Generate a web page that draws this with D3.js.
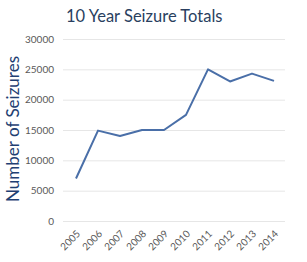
<!DOCTYPE html>
<html lang="en">
<head>
<meta charset="UTF-8">
<title>10 Year Seizure Totals</title>
<script src="https://cdn.jsdelivr.net/npm/d3@7/dist/d3.min.js"></script>
<style>
  body { margin: 0; background: #fff; }
  text { font-family: Lato, "Open Sans", sans-serif; }
  .tick text { fill: #595959; font-size: 10px; }
</style>
</head>
<body>
<script>
  // chart values
  var years = ["2005", "2006", "2007", "2008", "2009", "2010", "2011", "2012", "2013", "2014"];
  var seizures = [7000, 14900, 14000, 15000, 15000, 17500, 25000, 23000, 24300, 23100];
  var yTicks = [0, 5000, 10000, 15000, 20000, 25000, 30000];

  var width = 307, height = 262;
  var margin = {top: 39, right: 22, bottom: 41, left: 63};

  var svg = d3.select('body').append('svg')
      .attr('width', width).attr('height', height);

  var x = d3.scalePoint().domain(years)
      .range([65, width - margin.right]).padding(0.5);
  var y = d3.scaleLinear().domain([0, 30000])
      .range([height - margin.bottom, margin.top]);

  // gridlines + y labels
  var yAxis = svg.append('g')
      .attr('transform', 'translate(' + margin.left + ',0)')
      .call(d3.axisLeft(y).tickValues(yTicks)
            .tickSize(-(width - margin.left - margin.right))
            .tickPadding(9).tickFormat(d3.format('d')));
  yAxis.select('.domain').remove();
  yAxis.selectAll('.tick line').attr('stroke', '#e6e6e6');

  // x labels, rotated
  var xAxis = svg.append('g')
      .attr('transform', 'translate(0,' + (height - margin.bottom) + ')')
      .call(d3.axisBottom(x).tickSize(0));
  xAxis.select('.domain').remove();
  xAxis.selectAll('.tick text')
      .attr('text-anchor', 'end')
      .attr('x', 0).attr('y', 0).attr('dy', '0.35em')
      .attr('transform', 'translate(2,11) rotate(-45)');

  var line = d3.line()
      .x((d, i) => x(years[i]))
      .y(d => y(d));

  svg.append('path').datum(seizures)
      .attr('d', line)
      .attr('fill', 'none')
      .attr('stroke', '#4a6fa8')
      .attr('stroke-width', 2)
      .attr('stroke-linejoin', 'round');

  svg.append('text')
      .attr('x', 66).attr('y', 22)
      .attr('fill', '#2a3f5f')
      .style('font-size', '16.5px')
      .text('10 Year Seizure Totals');

  svg.append('text')
      .attr('transform', 'translate(19,129) rotate(-90)')
      .attr('text-anchor', 'middle')
      .attr('fill', '#1f3f73')
      .style('font-size', '17px')
      .text('Number of Seizures');
</script>
</body>
</html>
